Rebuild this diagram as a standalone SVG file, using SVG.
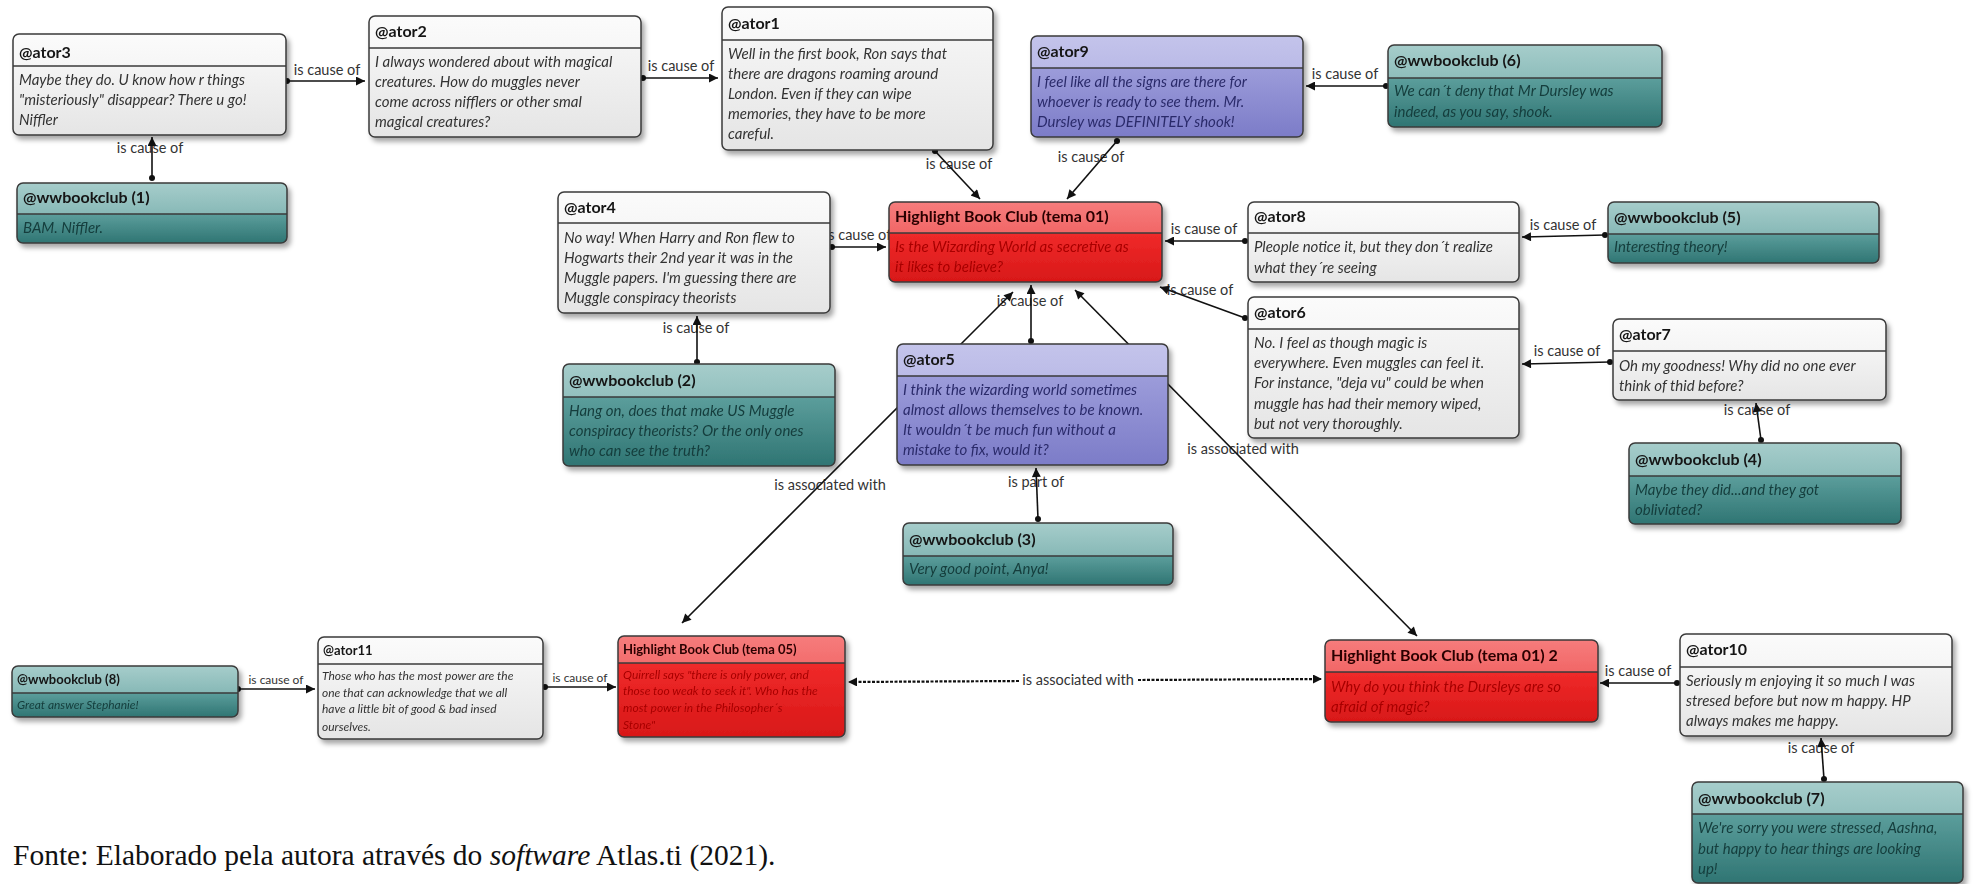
<svg xmlns="http://www.w3.org/2000/svg" width="1973" height="884" viewBox="0 0 1973 884">
<style>
.ti{font-family:Lato,"Liberation Sans",sans-serif;font-weight:700;font-size:16px;fill:#151515}
.bt{font-family:Lato,"Liberation Sans",sans-serif;font-style:italic;font-size:15px}
.sm .ti{font-size:13px}
.sm .bt{font-size:12px}
.w .hd{fill:url(#wH)} .w .bd{fill:url(#wB)} .w .bt{fill:#333}
.t .hd{fill:url(#tH)} .t .bd{fill:url(#tB)} .t .bt{fill:#143d3c}
.p .hd{fill:url(#pH)} .p .bd{fill:url(#pB)} .p .bt{fill:#2b2b6b}
.r .hd{fill:url(#rH)} .r .bd{fill:url(#rB)} .r .bt{fill:#a80000} .r .ti{fill:#2a0000}
.fr{fill:none;stroke:#3a3a3a;stroke-width:1.5}
.dv{stroke:#3a3a3a;stroke-width:1.5}
.cn{stroke:#111;stroke-width:1.6;fill:none}
.ca{marker-start:url(#dot);marker-end:url(#arr)}
.as{marker-start:url(#arr);marker-end:url(#arr)}
.ds{stroke-dasharray:3 1.5;stroke-width:2.2}
.lb{font-family:Lato,"Liberation Sans",sans-serif;font-size:14.5px;fill:#333;text-anchor:middle}
.lbs{font-size:12px}
.fonte{font-family:"Liberation Serif","Times New Roman",serif;font-size:29.5px;fill:#111}
</style>
<defs>
<linearGradient id="wH" x1="0" y1="0" x2="0" y2="1"><stop offset="0" stop-color="#fbfbfb"/><stop offset="1" stop-color="#ebebeb"/></linearGradient>
<linearGradient id="wB" x1="0" y1="0" x2="0" y2="1"><stop offset="0" stop-color="#f4f4f4"/><stop offset="1" stop-color="#e5e5e5"/></linearGradient>
<linearGradient id="tH" x1="0" y1="0" x2="0" y2="1"><stop offset="0" stop-color="#a6cdcb"/><stop offset="1" stop-color="#6ba6a4"/></linearGradient>
<linearGradient id="tB" x1="0" y1="0" x2="0" y2="1"><stop offset="0" stop-color="#5c9e9c"/><stop offset="1" stop-color="#2f7573"/></linearGradient>
<linearGradient id="pH" x1="0" y1="0" x2="0" y2="1"><stop offset="0" stop-color="#c4c4eb"/><stop offset="1" stop-color="#a5a5de"/></linearGradient>
<linearGradient id="pB" x1="0" y1="0" x2="0" y2="1"><stop offset="0" stop-color="#9c9cda"/><stop offset="1" stop-color="#7c7cc8"/></linearGradient>
<linearGradient id="rH" x1="0" y1="0" x2="0" y2="1"><stop offset="0" stop-color="#f67c7c"/><stop offset="1" stop-color="#ea4545"/></linearGradient>
<linearGradient id="rB" x1="0" y1="0" x2="0" y2="1"><stop offset="0" stop-color="#f02a2a"/><stop offset="1" stop-color="#d81818"/></linearGradient>
<filter id="sh" x="-5%" y="-10%" width="115%" height="130%"><feDropShadow dx="3" dy="4" stdDeviation="2.5" flood-color="#000" flood-opacity="0.35"/></filter>
<marker id="arr" viewBox="0 0 10 10" refX="10" refY="5" markerWidth="11" markerHeight="9" markerUnits="userSpaceOnUse" orient="auto-start-reverse"><path d="M0,0L10,5L0,10Z" fill="#111"/></marker>
<marker id="dot" viewBox="0 0 10 10" refX="5" refY="5" markerWidth="6" markerHeight="6" markerUnits="userSpaceOnUse"><circle cx="5" cy="5" r="5" fill="#111"/></marker>
</defs>
<rect x="0" y="0" width="1973" height="884" fill="#fff"/>

<g id="connectors">
<text class="lb" x="150" y="153">is cause of</text>
<line class="cn ca" x1="152" y1="178" x2="152" y2="137"/>
<text class="lb" x="327" y="75">is cause of</text>
<line class="cn ca" x1="287" y1="81" x2="365" y2="81"/>
<text class="lb" x="681" y="71">is cause of</text>
<line class="cn ca" x1="643" y1="78" x2="718" y2="78"/>
<text class="lb" x="959" y="169">is cause of</text>
<line class="cn ca" x1="935" y1="151" x2="980" y2="199"/>
<text class="lb" x="1091" y="162">is cause of</text>
<line class="cn ca" x1="1117" y1="141" x2="1067" y2="199"/>
<text class="lb" x="1345" y="79">is cause of</text>
<line class="cn ca" x1="1386" y1="86" x2="1306" y2="86"/>
<text class="lb" x="858" y="240">is cause of</text>
<line class="cn ca" x1="832" y1="247" x2="886" y2="247"/>
<text class="lb" x="1204" y="234">is cause of</text>
<line class="cn ca" x1="1245" y1="241" x2="1165" y2="241"/>
<text class="lb" x="1563" y="230">is cause of</text>
<line class="cn ca" x1="1605" y1="235" x2="1522" y2="237"/>
<text class="lb" x="1200" y="295">is cause of</text>
<line class="cn ca" x1="1245" y1="318" x2="1160" y2="287"/>
<text class="lb" x="1567" y="356">is cause of</text>
<line class="cn ca" x1="1610" y1="362" x2="1522" y2="364"/>
<text class="lb" x="1757" y="415">is cause of</text>
<line class="cn ca" x1="1761" y1="440" x2="1756" y2="403"/>
<text class="lb" x="696" y="333">is cause of</text>
<line class="cn ca" x1="697" y1="362" x2="697" y2="316"/>
<text class="lb" x="1030" y="306">is cause of</text>
<line class="cn ca" x1="1031" y1="341" x2="1031" y2="285"/>
<text class="lb" x="830" y="490">is associated with</text>
<line class="cn as" x1="682" y1="623" x2="1013" y2="292"/>
<text class="lb" x="1243" y="454">is associated with</text>
<line class="cn as" x1="1417" y1="636" x2="1075" y2="290"/>
<text class="lb" x="1036" y="487">is part of</text>
<line class="cn ca" x1="1038" y1="519" x2="1036" y2="468"/>
<text class="lb lbs" x="276" y="684">is cause of</text>
<line class="cn ca" x1="238" y1="689" x2="315" y2="689"/>
<text class="lb lbs" x="580" y="682">is cause of</text>
<line class="cn ca" x1="545" y1="687" x2="616" y2="687"/>
<line class="cn ds" x1="1019" y1="681" x2="848" y2="682" marker-end="url(#arr)"/>
<line class="cn ds" x1="1138" y1="680" x2="1322" y2="679" marker-end="url(#arr)"/>
<text class="lb" x="1078" y="685">is associated with</text>
<text class="lb" x="1638" y="676">is cause of</text>
<line class="cn ca" x1="1677" y1="683" x2="1600" y2="683"/>
<text class="lb" x="1821" y="753">is cause of</text>
<line class="cn ca" x1="1824" y1="779" x2="1821" y2="738"/>
</g>

<g id="n-ator3" class="node w" filter="url(#sh)">
<rect class="hd" x="13" y="34" width="273" height="101" rx="6"/>
<path class="bd" d="M13,66H286V129Q286,135 280,135H19Q13,135 13,129Z"/>
<rect class="fr" x="13" y="34" width="273" height="101" rx="6"/>
<line class="dv" x1="13" y1="66" x2="286" y2="66"/>
<text class="ti" x="19" y="58">@ator3</text>
<text class="bt"><tspan x="19" y="85">Maybe they do. U know how r things</tspan><tspan x="19" y="105">"misteriously" disappear? There u go!</tspan><tspan x="19" y="125">Niffler</tspan></text>
</g>

<g id="n-wwbookclub1" class="node t" filter="url(#sh)">
<rect class="hd" x="17" y="183" width="270" height="60" rx="6"/>
<path class="bd" d="M17,214H287V237Q287,243 281,243H23Q17,243 17,237Z"/>
<rect class="fr" x="17" y="183" width="270" height="60" rx="6"/>
<line class="dv" x1="17" y1="214" x2="287" y2="214"/>
<text class="ti" x="23" y="203">@wwbookclub (1)</text>
<text class="bt"><tspan x="23" y="233">BAM. Niffler.</tspan></text>
</g>

<g id="n-ator2" class="node w" filter="url(#sh)">
<rect class="hd" x="369" y="16" width="272" height="121" rx="6"/>
<path class="bd" d="M369,48H641V131Q641,137 635,137H375Q369,137 369,131Z"/>
<rect class="fr" x="369" y="16" width="272" height="121" rx="6"/>
<line class="dv" x1="369" y1="48" x2="641" y2="48"/>
<text class="ti" x="375" y="37">@ator2</text>
<text class="bt"><tspan x="375" y="67">I always wondered about with magical</tspan><tspan x="375" y="87">creatures. How do muggles never</tspan><tspan x="375" y="107">come across nifflers or other smal</tspan><tspan x="375" y="127">magical creatures?</tspan></text>
</g>

<g id="n-ator1" class="node w" filter="url(#sh)">
<rect class="hd" x="722" y="7" width="271" height="143" rx="6"/>
<path class="bd" d="M722,40H993V144Q993,150 987,150H728Q722,150 722,144Z"/>
<rect class="fr" x="722" y="7" width="271" height="143" rx="6"/>
<line class="dv" x1="722" y1="40" x2="993" y2="40"/>
<text class="ti" x="728" y="29">@ator1</text>
<text class="bt"><tspan x="728" y="59">Well in the first book, Ron says that</tspan><tspan x="728" y="79">there are dragons roaming around</tspan><tspan x="728" y="99">London. Even if they can wipe</tspan><tspan x="728" y="119">memories, they have to be more</tspan><tspan x="728" y="139">careful.</tspan></text>
</g>

<g id="n-ator9" class="node p" filter="url(#sh)">
<rect class="hd" x="1031" y="36" width="272" height="101" rx="6"/>
<path class="bd" d="M1031,68H1303V131Q1303,137 1297,137H1037Q1031,137 1031,131Z"/>
<rect class="fr" x="1031" y="36" width="272" height="101" rx="6"/>
<line class="dv" x1="1031" y1="68" x2="1303" y2="68"/>
<text class="ti" x="1037" y="57">@ator9</text>
<text class="bt"><tspan x="1037" y="87">I feel like all the signs are there for</tspan><tspan x="1037" y="107">whoever is ready to see them. Mr.</tspan><tspan x="1037" y="127">Dursley was DEFINITELY shook!</tspan></text>
</g>

<g id="n-wwbookclub6" class="node t" filter="url(#sh)">
<rect class="hd" x="1388" y="45" width="274" height="82" rx="6"/>
<path class="bd" d="M1388,78H1662V121Q1662,127 1656,127H1394Q1388,127 1388,121Z"/>
<rect class="fr" x="1388" y="45" width="274" height="82" rx="6"/>
<line class="dv" x1="1388" y1="78" x2="1662" y2="78"/>
<text class="ti" x="1394" y="66">@wwbookclub (6)</text>
<text class="bt"><tspan x="1394" y="96">We can´t deny that Mr Dursley was</tspan><tspan x="1394" y="117">indeed, as you say, shook.</tspan></text>
</g>

<g id="n-ator4" class="node w" filter="url(#sh)">
<rect class="hd" x="558" y="192" width="272" height="121" rx="6"/>
<path class="bd" d="M558,223H830V307Q830,313 824,313H564Q558,313 558,307Z"/>
<rect class="fr" x="558" y="192" width="272" height="121" rx="6"/>
<line class="dv" x1="558" y1="223" x2="830" y2="223"/>
<text class="ti" x="564" y="213">@ator4</text>
<text class="bt"><tspan x="564" y="243">No way! When Harry and Ron flew to</tspan><tspan x="564" y="263">Hogwarts their 2nd year it was in the</tspan><tspan x="564" y="283">Muggle papers. I'm guessing there are</tspan><tspan x="564" y="303">Muggle conspiracy theorists</tspan></text>
</g>

<g id="n-tema01" class="node r" filter="url(#sh)">
<rect class="hd" x="889" y="202" width="273" height="80" rx="6"/>
<path class="bd" d="M889,233H1162V276Q1162,282 1156,282H895Q889,282 889,276Z"/>
<rect class="fr" x="889" y="202" width="273" height="80" rx="6"/>
<line class="dv" x1="889" y1="233" x2="1162" y2="233"/>
<text class="ti" x="895" y="222">Highlight Book Club (tema 01)</text>
<text class="bt"><tspan x="895" y="252">Is the Wizarding World as secretive as</tspan><tspan x="895" y="272">it likes to believe?</tspan></text>
</g>

<g id="n-ator8" class="node w" filter="url(#sh)">
<rect class="hd" x="1248" y="202" width="271" height="80" rx="6"/>
<path class="bd" d="M1248,233H1519V276Q1519,282 1513,282H1254Q1248,282 1248,276Z"/>
<rect class="fr" x="1248" y="202" width="271" height="80" rx="6"/>
<line class="dv" x1="1248" y1="233" x2="1519" y2="233"/>
<text class="ti" x="1254" y="222">@ator8</text>
<text class="bt"><tspan x="1254" y="252">Pleople notice it, but they don´t realize</tspan><tspan x="1254" y="273">what they´re seeing</tspan></text>
</g>

<g id="n-wwbookclub5" class="node t" filter="url(#sh)">
<rect class="hd" x="1608" y="202" width="271" height="61" rx="6"/>
<path class="bd" d="M1608,234H1879V257Q1879,263 1873,263H1614Q1608,263 1608,257Z"/>
<rect class="fr" x="1608" y="202" width="271" height="61" rx="6"/>
<line class="dv" x1="1608" y1="234" x2="1879" y2="234"/>
<text class="ti" x="1614" y="223">@wwbookclub (5)</text>
<text class="bt"><tspan x="1614" y="252">Interesting theory!</tspan></text>
</g>

<g id="n-ator6" class="node w" filter="url(#sh)">
<rect class="hd" x="1248" y="297" width="271" height="141" rx="6"/>
<path class="bd" d="M1248,329H1519V432Q1519,438 1513,438H1254Q1248,438 1248,432Z"/>
<rect class="fr" x="1248" y="297" width="271" height="141" rx="6"/>
<line class="dv" x1="1248" y1="329" x2="1519" y2="329"/>
<text class="ti" x="1254" y="318">@ator6</text>
<text class="bt"><tspan x="1254" y="348">No. I feel as though magic is</tspan><tspan x="1254" y="368">everywhere. Even muggles can feel it.</tspan><tspan x="1254" y="388">For instance, "deja vu" could be when</tspan><tspan x="1254" y="409">muggle has had their memory wiped,</tspan><tspan x="1254" y="429">but not very thoroughly.</tspan></text>
</g>

<g id="n-ator7" class="node w" filter="url(#sh)">
<rect class="hd" x="1613" y="319" width="273" height="81" rx="6"/>
<path class="bd" d="M1613,351H1886V394Q1886,400 1880,400H1619Q1613,400 1613,394Z"/>
<rect class="fr" x="1613" y="319" width="273" height="81" rx="6"/>
<line class="dv" x1="1613" y1="351" x2="1886" y2="351"/>
<text class="ti" x="1619" y="340">@ator7</text>
<text class="bt"><tspan x="1619" y="371">Oh my goodness! Why did no one ever</tspan><tspan x="1619" y="391">think of thid before?</tspan></text>
</g>

<g id="n-wwbookclub2" class="node t" filter="url(#sh)">
<rect class="hd" x="563" y="364" width="272" height="102" rx="6"/>
<path class="bd" d="M563,397H835V460Q835,466 829,466H569Q563,466 563,460Z"/>
<rect class="fr" x="563" y="364" width="272" height="102" rx="6"/>
<line class="dv" x1="563" y1="397" x2="835" y2="397"/>
<text class="ti" x="569" y="386">@wwbookclub (2)</text>
<text class="bt"><tspan x="569" y="416">Hang on, does that make US Muggle</tspan><tspan x="569" y="436">conspiracy theorists? Or the only ones</tspan><tspan x="569" y="456">who can see the truth?</tspan></text>
</g>

<g id="n-ator5" class="node p" filter="url(#sh)">
<rect class="hd" x="897" y="344" width="271" height="121" rx="6"/>
<path class="bd" d="M897,376H1168V459Q1168,465 1162,465H903Q897,465 897,459Z"/>
<rect class="fr" x="897" y="344" width="271" height="121" rx="6"/>
<line class="dv" x1="897" y1="376" x2="1168" y2="376"/>
<text class="ti" x="903" y="365">@ator5</text>
<text class="bt"><tspan x="903" y="395">I think the wizarding world sometimes</tspan><tspan x="903" y="415">almost allows themselves to be known.</tspan><tspan x="903" y="435">It wouldn´t be much fun without a</tspan><tspan x="903" y="455">mistake to fix, would it?</tspan></text>
</g>

<g id="n-wwbookclub4" class="node t" filter="url(#sh)">
<rect class="hd" x="1629" y="443" width="272" height="81" rx="6"/>
<path class="bd" d="M1629,476H1901V518Q1901,524 1895,524H1635Q1629,524 1629,518Z"/>
<rect class="fr" x="1629" y="443" width="272" height="81" rx="6"/>
<line class="dv" x1="1629" y1="476" x2="1901" y2="476"/>
<text class="ti" x="1635" y="465">@wwbookclub (4)</text>
<text class="bt"><tspan x="1635" y="495">Maybe they did...and they got</tspan><tspan x="1635" y="515">obliviated?</tspan></text>
</g>

<g id="n-wwbookclub3" class="node t" filter="url(#sh)">
<rect class="hd" x="903" y="523" width="270" height="62" rx="6"/>
<path class="bd" d="M903,556H1173V579Q1173,585 1167,585H909Q903,585 903,579Z"/>
<rect class="fr" x="903" y="523" width="270" height="62" rx="6"/>
<line class="dv" x1="903" y1="556" x2="1173" y2="556"/>
<text class="ti" x="909" y="545">@wwbookclub (3)</text>
<text class="bt"><tspan x="909" y="574">Very good point, Anya!</tspan></text>
</g>

<g id="n-wwbookclub8" class="node t sm" filter="url(#sh)">
<rect class="hd" x="12" y="666" width="226" height="51" rx="6"/>
<path class="bd" d="M12,693H238V711Q238,717 232,717H18Q12,717 12,711Z"/>
<rect class="fr" x="12" y="666" width="226" height="51" rx="6"/>
<line class="dv" x1="12" y1="693" x2="238" y2="693"/>
<text class="ti" x="17" y="684">@wwbookclub (8)</text>
<text class="bt"><tspan x="17" y="709">Great answer Stephanie!</tspan></text>
</g>

<g id="n-ator11" class="node w sm" filter="url(#sh)">
<rect class="hd" x="318" y="637" width="225" height="102" rx="6"/>
<path class="bd" d="M318,664H543V733Q543,739 537,739H324Q318,739 318,733Z"/>
<rect class="fr" x="318" y="637" width="225" height="102" rx="6"/>
<line class="dv" x1="318" y1="664" x2="543" y2="664"/>
<text class="ti" x="323" y="655">@ator11</text>
<text class="bt"><tspan x="322" y="680">Those who has the most power are the</tspan><tspan x="322" y="697">one that can acknowledge that we all</tspan><tspan x="322" y="713">have a little bit of good &amp; bad insed</tspan><tspan x="322" y="731">ourselves.</tspan></text>
</g>

<g id="n-tema05" class="node r sm" filter="url(#sh)">
<rect class="hd" x="618" y="636" width="227" height="101" rx="6"/>
<path class="bd" d="M618,663H845V731Q845,737 839,737H624Q618,737 618,731Z"/>
<rect class="fr" x="618" y="636" width="227" height="101" rx="6"/>
<line class="dv" x1="618" y1="663" x2="845" y2="663"/>
<text class="ti" x="623" y="654">Highlight Book Club (tema 05)</text>
<text class="bt"><tspan x="623" y="679">Quirrell says "there is only power, and</tspan><tspan x="623" y="695">those too weak to seek it". Who has the</tspan><tspan x="623" y="712">most power in the Philosopher´s</tspan><tspan x="623" y="729">Stone"</tspan></text>
</g>

<g id="n-tema01-2" class="node r" filter="url(#sh)">
<rect class="hd" x="1325" y="640" width="273" height="82" rx="6"/>
<path class="bd" d="M1325,672H1598V716Q1598,722 1592,722H1331Q1325,722 1325,716Z"/>
<rect class="fr" x="1325" y="640" width="273" height="82" rx="6"/>
<line class="dv" x1="1325" y1="672" x2="1598" y2="672"/>
<text class="ti" x="1331" y="661">Highlight Book Club (tema 01) 2</text>
<text class="bt"><tspan x="1331" y="692">Why  do you think the Dursleys are so</tspan><tspan x="1331" y="712">afraid of magic?</tspan></text>
</g>

<g id="n-ator10" class="node w" filter="url(#sh)">
<rect class="hd" x="1680" y="634" width="272" height="102" rx="6"/>
<path class="bd" d="M1680,667H1952V730Q1952,736 1946,736H1686Q1680,736 1680,730Z"/>
<rect class="fr" x="1680" y="634" width="272" height="102" rx="6"/>
<line class="dv" x1="1680" y1="667" x2="1952" y2="667"/>
<text class="ti" x="1686" y="655">@ator10</text>
<text class="bt"><tspan x="1686" y="686">Seriously m enjoying it so much I was</tspan><tspan x="1686" y="706">stresed before but now m happy. HP</tspan><tspan x="1686" y="726">always makes me happy.</tspan></text>
</g>

<g id="n-wwbookclub7" class="node t" filter="url(#sh)">
<rect class="hd" x="1692" y="782" width="271" height="101" rx="6"/>
<path class="bd" d="M1692,814H1963V877Q1963,883 1957,883H1698Q1692,883 1692,877Z"/>
<rect class="fr" x="1692" y="782" width="271" height="101" rx="6"/>
<line class="dv" x1="1692" y1="814" x2="1963" y2="814"/>
<text class="ti" x="1698" y="804">@wwbookclub (7)</text>
<text class="bt"><tspan x="1698" y="833">We're sorry you were stressed, Aashna,</tspan><tspan x="1698" y="854">but happy to hear things are looking</tspan><tspan x="1698" y="874">up!</tspan></text>
</g>

<text class="fonte" x="13" y="865">Fonte: Elaborado pela autora através do <tspan font-style="italic">software</tspan> Atlas.ti (2021).</text>
</svg>
